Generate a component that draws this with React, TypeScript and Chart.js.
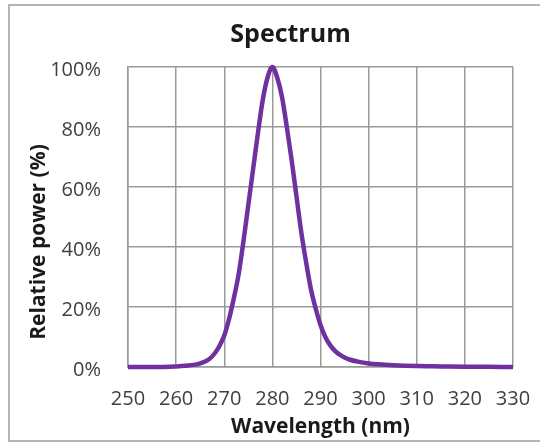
import React, { useEffect, useRef } from 'react';
import { Chart, registerables } from 'chart.js';

Chart.register(...registerables);

const wavelengths = [250, 255, 260, 262, 264, 265, 266, 267, 268, 269, 270, 271, 272, 273, 274, 275, 276, 277, 278, 279, 280, 281, 282, 283, 284, 285, 286, 287, 288, 289, 290, 291, 292, 293, 294, 295, 296, 298, 300, 302, 305, 310, 315, 320, 325, 330];
const relativePower = [0, 0, 0.2, 0.4, 0.8, 1.2, 1.8, 2.8, 4.5, 7, 10.5, 16, 23, 31, 42, 54, 66, 78, 89, 96.5, 100, 96.5, 90, 80, 69, 57, 45, 35, 26, 19.5, 14, 10, 7.3, 5.4, 4.1, 3.2, 2.5, 1.7, 1.2, 0.9, 0.6, 0.3, 0.2, 0.1, 0.05, 0];
const xTicks = [250, 260, 270, 280, 290, 300, 310, 320, 330];
const yTicks = [0, 20, 40, 60, 80, 100];

const chartTitle = 'Spectrum';
const xTitle = 'Wavelength (nm)';
const yTitle = 'Relative power (%)';

const FONT = '"Open Sans", "DejaVu Sans", sans-serif';
const GRID = '#9a9a9a';
const TEXT = '#404040';
const TITLE = '#1a1a1a';

const titlesPlugin = {
  id: 'customTitles',
  afterDraw(chart: any) {
    const { ctx, chartArea } = chart;
    ctx.save();
    ctx.fillStyle = TITLE;
    ctx.textAlign = 'center';
    ctx.textBaseline = 'middle';
    ctx.font = `bold 25px ${FONT}`;
    ctx.fillText(chartTitle, (chartArea.left + chartArea.right) / 2 - 30, 35);
    ctx.translate(39, (chartArea.top + chartArea.bottom) / 2 + 25);
    ctx.rotate(-Math.PI / 2);
    ctx.font = `bold 21px ${FONT}`;
    ctx.fillText(yTitle, 0, 0);
    ctx.restore();
  },
};

export default function App() {
  const ref = useRef<HTMLCanvasElement | null>(null);

  useEffect(() => {
    if (!ref.current) return;
    const chart = new Chart(ref.current, {
      type: 'line',
      data: {
        datasets: [
          {
            data: wavelengths.map((x, i) => ({ x, y: relativePower[i] })),
            borderColor: '#7030A0',
            backgroundColor: '#7030A0',
            borderWidth: 4.5,
            pointRadius: 0,
            cubicInterpolationMode: 'monotone',
            clip: 6,
          } as any,
        ],
      },
      options: {
        animation: false,
        responsive: false,
        events: [],
        layout: { padding: { left: 10, right: 27, top: 67, bottom: 0 } },
        plugins: {
          legend: { display: false },
          tooltip: { enabled: false },
          title: { display: false },
        },
        scales: {
          x: {
            type: 'linear',
            min: 250,
            max: 330,
            afterBuildTicks: (s: any) => {
              s.ticks = xTicks.map((v) => ({ value: v }));
            },
            afterFit: (s: any) => {
              s.height = 76;
              s.paddingLeft = 0;
              s.paddingRight = 0;
            },
            ticks: {
              font: { family: FONT, size: 20 },
              color: TEXT,
              padding: 20,
              maxRotation: 0,
              autoSkip: false,
            },
            grid: { color: GRID, lineWidth: 1.5, drawTicks: false },
            border: { color: GRID, width: 1.5 },
            title: {
              display: true,
              text: xTitle,
              color: TITLE,
              font: { family: FONT, size: 21, weight: 'bold' },
              padding: { top: 0, bottom: 3 },
            },
          },
          y: {
            type: 'linear',
            min: 0,
            max: 100,
            afterBuildTicks: (s: any) => {
              s.ticks = yTicks.map((v) => ({ value: v }));
            },
            afterFit: (s: any) => {
              s.width = 118;
              s.paddingTop = 0;
              s.paddingBottom = 0;
            },
            ticks: {
              callback: (v: any) => `${v}%`,
              font: { family: FONT, size: 20 },
              color: TEXT,
              padding: 27,
              labelOffset: 3,
            } as any,
            grid: { color: GRID, lineWidth: 1.5, drawTicks: false },
            border: { color: GRID, width: 1.5 },
          },
        },
      } as any,
      plugins: [titlesPlugin],
    });
    return () => chart.destroy();
  }, []);

  return (
    <div style={{ position: 'fixed', left: 0, top: 0, width: 540, height: 443, background: '#fff', overflow: 'hidden' }}>
      <div
        style={{
          position: 'absolute',
          left: 8,
          top: 4,
          width: 540,
          height: 438,
          border: '2px solid #b4b4b4',
          boxSizing: 'border-box',
        }}
      />
      <canvas ref={ref} width={540} height={443} style={{ position: 'absolute', left: 0, top: 0 }} />
    </div>
  );
}
